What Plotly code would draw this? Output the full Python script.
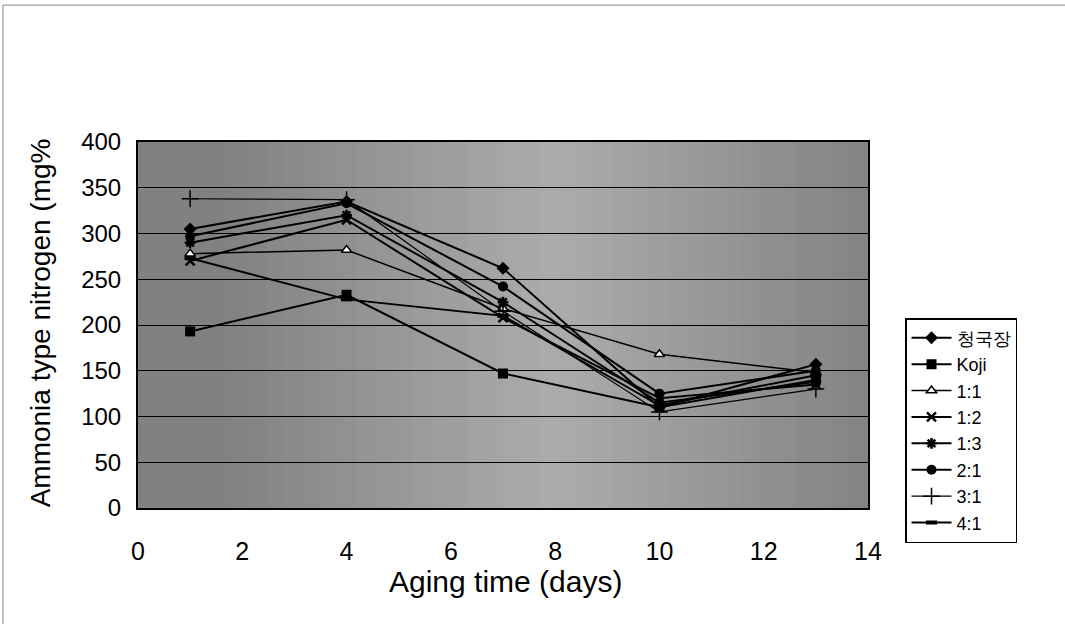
import plotly.graph_objects as go

days = [1, 4, 7, 10, 13]
series_names = ["청국장", "Koji", "1:1", "1:2", "1:3", "2:1", "3:1", "4:1"]
cheonggukjang = [305, 335, 262, 110, 157]
koji = [193, 233, 147, 110, 140]
r1_1 = [278, 282, 218, 168, 148]
r1_2 = [270, 315, 208, 120, 135]
r1_3 = [290, 320, 225, 115, 138]
r2_1 = [297, 333, 242, 125, 150]
r3_1 = [338, 337, 215, 105, 130]
r4_1 = [273, 228, 210, 112, 145]
x_ticks = [0, 2, 4, 6, 8, 10, 12, 14]
y_ticks = [0, 50, 100, 150, 200, 250, 300, 350, 400]

values = [cheonggukjang, koji, r1_1, r1_2, r1_3, r2_1, r3_1, r4_1]
markers = [
    dict(symbol="diamond", size=10, color="black"),
    dict(symbol="square", size=10, color="black"),
    dict(symbol="triangle-up", size=9, color="white", line=dict(color="black", width=1.5)),
    dict(symbol="x-thin-open", size=9, color="black", line=dict(color="black", width=2.5)),
    dict(symbol="asterisk-open", size=9, color="black", line=dict(color="black", width=2.5)),
    dict(symbol="circle", size=10, color="black"),
    dict(symbol="cross-thin-open", size=12, color="black", line=dict(color="black", width=1.5)),
    dict(symbol="line-ew-open", size=8, color="black", line=dict(color="black", width=4)),
]
line_widths = [2, 2, 1.5, 2, 2, 2, 1.2, 2]

fig = go.Figure()

# soft horizontal gradient to mimic the halftone background
nb = 40
for i in range(nb):
    t = (i + 0.5) / nb
    d = min(abs(t - 0.57), 0.45)
    g = int(round(172 - 95 * d))
    fig.add_shape(type="rect", xref="paper", yref="paper",
                  x0=i / nb, x1=(i + 1) / nb + 0.002, y0=0, y1=1,
                  fillcolor=f"rgb({g},{g},{g})", line=dict(width=0), layer="below")

for name, vals, mk, lw in zip(series_names, values, markers, line_widths):
    fig.add_trace(go.Scatter(
        x=days, y=vals, name=name, mode="lines+markers",
        line=dict(color="black", width=lw), marker=mk,
    ))

# outer frame lines
fig.add_shape(type="line", xref="paper", yref="paper",
              x0=-0.185, x1=1.3, y0=1.374, y1=1.374,
              line=dict(color="#888888", width=1))
fig.add_shape(type="line", xref="paper", yref="paper",
              x0=-0.185, x1=-0.185, y0=-0.35, y1=1.374,
              line=dict(color="#888888", width=1))

font_family = "Liberation Sans, Arial, sans-serif"

fig.update_layout(
    width=1065, height=624,
    margin=dict(l=138, r=197, t=142, b=116),
    paper_bgcolor="white",
    plot_bgcolor="rgb(140,140,140)",
    font=dict(family=font_family, color="black", size=22),
    showlegend=True,
    legend=dict(
        x=1.0507, y=0.519, xanchor="left", yanchor="top",
        bgcolor="white", bordercolor="black", borderwidth=1.5,
        font=dict(size=18, family=font_family, color="black"),
        tracegroupgap=0, itemwidth=40,
    ),
    xaxis=dict(
        range=[0, 14], tickvals=x_ticks, ticktext=[str(v) for v in x_ticks],
        showgrid=False, zeroline=False,
        showline=True, linecolor="black", linewidth=2, mirror=True,
        ticks="outside", ticklen=20, tickcolor="rgba(0,0,0,0)",
        tickfont=dict(size=25),
    ),
    yaxis=dict(
        range=[0, 400], tickvals=y_ticks, ticktext=[str(v) for v in y_ticks],
        showgrid=True, gridcolor="black", gridwidth=1,
        zeroline=False,
        showline=True, linecolor="black", linewidth=2, mirror=True,
        ticks="outside", ticklen=10, tickcolor="rgba(0,0,0,0)",
        tickfont=dict(size=24),
    ),
    annotations=[
        dict(text="Ammonia type nitrogen (mg%", xref="paper", yref="paper",
             x=-0.134, y=0.505, textangle=-90, showarrow=False,
             xanchor="center", yanchor="middle", font=dict(size=28)),
        dict(text="Aging time (days)", xref="paper", yref="paper",
             x=0.504, y=-0.202, showarrow=False,
             xanchor="center", yanchor="middle", font=dict(size=30)),
    ],
)

fig.write_html("out.html")
